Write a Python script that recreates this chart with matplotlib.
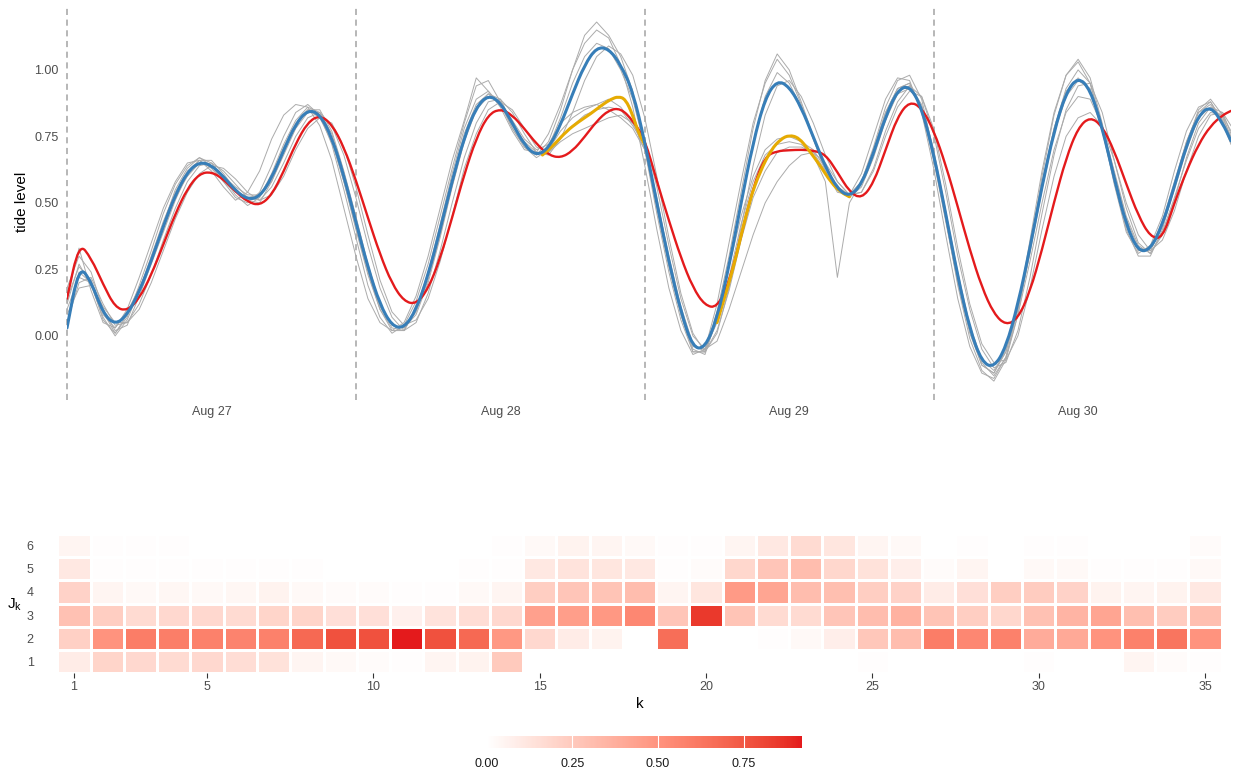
import numpy as np
import matplotlib
matplotlib.use("Agg")
import matplotlib.pyplot as plt
from matplotlib.colors import ListedColormap
from matplotlib.path import Path
from matplotlib.patches import PathPatch

plt.rcParams['font.family'] = ['Liberation Sans', 'DejaVu Sans']
plt.rcParams['mathtext.default'] = 'regular'

# hours since Aug 27 00:00
hours = list(range(97)) + [96.7]

day_ticks = [12, 36, 60, 84]
day_labels = ["Aug 27", "Aug 28", "Aug 29", "Aug 30"]
midnights = [0, 24, 48, 72]

# blue fit
blue = [.03, .265, .205, .085, .041, .079, .165, .282, .413, .53,
        .616, .654, .642, .599, .546, .513, .522, .593, .698, .797,
        .85, .834, .747, .603, .429, .257, .118, .037, .029, .097,
        .228, .40, .583, .746, .86, .906, .878, .80, .717, .677,
        .705, .792, .91, 1.019, 1.085, 1.08, 1.02, .92, .73, .50,
        .28, .09, -.045, -.046, .065, .261, .50, .727, .894, .961,
        .937, .859, .748, .636, .553, .523, .569, .686, .824, .924,
        .942, .858, .685, .46, .223, .025, -.098, -.12, -.043, .118,
        .33, .563, .77, .915, .974, .927, .784, .592, .416, .317,
        .324, .417, .563, .716, .829, .865, .80, .733]

# red fit
red = [.14, .35, .293, .194, .107, .094, .14, .229, .343, .459,
       .554, .61, .617, .589, .543, .504, .49, .529, .618, .723,
       .803, .83, .796, .71, .586, .444, .307, .196, .13, .119,
       .176, .291, .445, .607, .743, .832, .854, .83, .779, .722,
       .68, .669, .695, .748, .807, .849, .856, .81, .74, .582,
       .434, .294, .181, .114, .106, .20, .376, .559, .675, .695,
       .698, .70, .697, .683, .616, .542, .515, .574, .699, .824,
       .882, .858, .773, .643, .486, .324, .183, .083, .04, .065,
       .166, .323, .503, .668, .783, .824, .789, .696, .571, .452,
       .372, .365, .50, .62, .72, .79, .83, .846]

# yellow pieces
yel1_h = [39.5, 40.5, 41.5, 42.5, 43.5, 44.5, 45.2, 45.8, 46.4, 47.0, 47.5, 48.0]
yel1_v = [.68, .72, .77, .805, .835, .87, .89, .90, .89, .83, .76, .72]
yel2_h = [54.0, 55.0, 55.6, 56.7, 57.6, 58.5, 59.3, 60.0, 60.8, 61.6, 62.5, 63.5, 64.3, 65.0]
yel2_v = [.05, .20, .30, .51, .62, .70, .74, .755, .745, .70, .645, .575, .54, .523]

# grey ensemble
grey1 = [.15, .33, .17, .05, .03, .10, .22, .35, .48, .58,
         .65, .66, .62, .56, .51, .54, .62, .74, .83, .87,
         .86, .79, .66, .48, .30, .14, .05, .02, .05, .15,
         .30, .48, .66, .81, .97, .92, .86, .77, .70, .69,
         .76, .87, 1.00, 1.10, 1.15, 1.12, 1.02, .86, .64, .40,
         .18, .02, -.07, -.05, .12, .35, .58, .80, .95, 1.04,
         .98, .87, .74, .62, .54, .53, .61, .75, .89, .97,
         .96, .84, .63, .38, .14, -.04, -.14, -.16, -.08, .10,
         .36, .62, .84, .98, 1.03, .95, .78, .57, .39, .31,
         .34, .45, .62, .77, .86, .88, .80, .72]
grey2 = [.05, .20, .22, .12, .04, .05, .12, .23, .36, .48,
         .58, .64, .65, .62, .57, .52, .51, .56, .65, .75,
         .82, .84, .79, .68, .52, .34, .18, .07, .02, .05,
         .16, .32, .50, .67, .80, .88, .89, .84, .76, .69,
         .68, .74, .84, .96, 1.05, 1.09, 1.06, .98, .82, .60,
         .37, .16, .01, -.06, .01, .18, .41, .64, .83, .94,
         .96, .90, .80, .68, .58, .53, .54, .63, .77, .88,
         .94, .90, .76, .54, .30, .10, -.05, -.12, -.10, .02,
         .22, .46, .68, .85, .94, .95, .84, .66, .48, .35,
         .31, .38, .51, .67, .80, .86, .84, .76]
grey3 = [.12, .27, .19, .07, .00, .06, .17, .29, .42, .55,
         .63, .67, .65, .59, .53, .49, .52, .61, .72, .81,
         .86, .84, .74, .58, .40, .23, .10, .03, .02, .10,
         .24, .42, .61, .78, .89, .92, .87, .78, .71, .67,
         .70, .77, .82, .85, .87, .89, .86, .80, .70, .49,
         .27, .08, -.05, -.07, .07, .26, .45, .60, .70, .74,
         .75, .73, .70, .63, .56, .53, .58, .70, .84, .93,
         .95, .85, .66, .43, .20, .01, -.11, -.14, -.05, .12,
         .34, .58, .78, .92, .97, .92, .77, .58, .41, .32,
         .33, .43, .58, .73, .84, .87, .81, .74]
grey4 = [.18, .30, .24, .10, .02, .04, .15, .27, .39, .51,
         .61, .66, .66, .61, .55, .51, .50, .58, .69, .79,
         .85, .85, .77, .62, .45, .27, .12, .04, .03, .09,
         .21, .38, .57, .74, .86, .91, .89, .80, .73, .69,
         .69, .75, .79, .83, .85, .86, .85, .79, .72, .52,
         .29, .10, -.04, -.05, .05, .22, .42, .58, .68, .72,
         .73, .72, .68, .58, .22, .50, .58, .68, .82, .92,
         .94, .87, .70, .47, .24, .04, -.09, -.13, -.06, .10,
         .31, .55, .76, .90, .96, .93, .79, .61, .44, .33,
         .32, .41, .55, .70, .82, .86, .82, .75]
grey5 = [.14, .26, .21, .09, .01, .07, .19, .32, .46, .57,
         .64, .67, .64, .58, .52, .50, .54, .64, .75, .84,
         .87, .83, .72, .55, .37, .19, .07, .01, .04, .13,
         .27, .45, .63, .80, .94, .96, .88, .78, .71, .68,
         .73, .85, 1.00, 1.13, 1.18, 1.13, 1.05, .92, .70, .46,
         .24, .06, -.06, -.06, .09, .30, .54, .78, .96, 1.06,
         1.00, .88, .75, .64, .56, .53, .58, .71, .86, .96,
         .98, .89, .69, .44, .19, -.01, -.13, -.17, -.09, .08,
         .32, .60, .83, .98, 1.04, .97, .80, .59, .40, .30,
         .30, .40, .56, .72, .85, .89, .83, .74]
grey6 = [.10, .22, .20, .08, .03, .09, .18, .28, .40, .52,
         .60, .65, .64, .60, .56, .53, .53, .58, .68, .78,
         .84, .84, .76, .60, .42, .25, .11, .04, .03, .08,
         .20, .37, .56, .73, .85, .90, .88, .81, .74, .70,
         .72, .80, .84, .86, .87, .85, .82, .78, .70, .51,
         .30, .11, -.03, -.06, .02, .17, .36, .52, .62, .69,
         .71, .71, .69, .62, .55, .52, .56, .67, .81, .91,
         .93, .86, .69, .46, .22, .03, -.10, -.15, -.08, .08,
         .28, .50, .70, .84, .90, .89, .79, .62, .45, .34,
         .31, .39, .52, .66, .78, .84, .83, .77]
grey7 = [.08, .18, .19, .11, .05, .05, .10, .20, .32, .44,
         .54, .61, .64, .63, .59, .54, .51, .53, .60, .70,
         .78, .82, .80, .71, .56, .38, .21, .09, .04, .06,
         .14, .28, .45, .63, .76, .85, .88, .85, .78, .71,
         .69, .73, .76, .78, .80, .82, .83, .80, .74, .56,
         .34, .14, .00, -.05, -.02, .10, .24, .38, .50, .58,
         .64, .68, .69, .65, .58, .53, .54, .62, .75, .86,
         .92, .90, .78, .57, .33, .12, -.03, -.10, -.09, .00,
         .18, .40, .60, .75, .82, .84, .79, .66, .50, .38,
         .32, .36, .47, .62, .75, .83, .84, .79]
grey8 = [.03, .24, .20, .06, .01, .08, .17, .30, .43, .54,
         .62, .66, .63, .58, .54, .52, .53, .60, .71, .80,
         .85, .82, .73, .58, .41, .24, .10, .02, .02, .10,
         .23, .41, .59, .76, .87, .91, .87, .79, .72, .68,
         .71, .82, .95, 1.05, 1.10, 1.08, 1.00, .89, .71, .48,
         .26, .08, -.06, -.06, .06, .26, .50, .73, .90, .99,
         .95, .86, .74, .63, .55, .52, .57, .70, .84, .93,
         .95, .86, .67, .44, .21, .02, -.11, -.14, -.06, .11,
         .34, .57, .78, .93, 1.00, .95, .79, .60, .42, .32,
         .33, .42, .57, .73, .84, .88, .81, .73]
greys = [grey1, grey2, grey3, grey4, grey5, grey6, grey7, grey8]

# heatmap: P(J_k = j) for k = 1..35
k_vals = list(range(1, 36))
jk1 = [.09, .20, .18, .17, .18, .16, .14, .05, .03, .02, .01, .05, .06, .25, 0, 0, 0, 0, 0, 0,
       0, 0, 0, 0, .01, 0, 0, 0, 0, .01, 0, 0, .05, .02, .01]
jk2 = [.22, .50, .60, .59, .58, .57, .58, .68, .77, .77, .92, .77, .68, .48, .18, .09, .06, 0, .66, 0,
       0, .01, .03, .08, .26, .31, .60, .55, .58, .39, .40, .50, .58, .63, .50]
jk3 = [.29, .23, .17, .18, .18, .17, .20, .20, .15, .15, .07, .13, .16, .18, .44, .45, .48, .55, .27, .85,
       .28, .17, .17, .27, .31, .36, .28, .23, .19, .29, .35, .42, .30, .24, .30]
jk4 = [.21, .05, .03, .04, .03, .04, .06, .03, .02, .02, .01, .01, .03, .05, .23, .27, .28, .31, .05, .12,
       .47, .42, .31, .30, .23, .21, .09, .15, .23, .24, .21, .06, .05, .06, .11]
jk5 = [.11, .01, .01, .01, .01, .01, .01, .01, 0, 0, 0, 0, .01, .01, .11, .13, .12, .11, .01, .02,
       .19, .27, .31, .19, .14, .08, .02, .05, 0, .03, .03, .01, .01, .01, .03]
jk6 = [.05, .01, .01, .01, 0, 0, 0, 0, 0, 0, 0, 0, 0, .01, .03, .06, .05, .03, .01, .01,
       .05, .11, .17, .12, .05, .03, 0, .01, 0, .01, .01, 0, 0, 0, .02]

cbar_ticks = [0, 0.25, 0.5, 0.75]


# white -> red gradient in Lab, like ggplot's scale_fill_gradient
M = np.array([[0.4124, 0.3576, 0.1805], [0.2126, 0.7152, 0.0722], [0.0193, 0.1192, 0.9505]])
WP = np.array([0.95047, 1.0, 1.08883])

def to_lab(c):
    c = np.asarray(c, float)
    lin = np.where(c <= 0.04045, c / 12.92, ((c + 0.055) / 1.055) ** 2.4)
    xyz = M @ lin / WP
    f = np.where(xyz > 0.008856, np.cbrt(xyz), 7.787 * xyz + 16 / 116)
    return np.array([116 * f[1] - 16, 500 * (f[0] - f[1]), 200 * (f[1] - f[2])])

def from_lab(lab):
    fy = (lab[0] + 16) / 116
    f = np.array([fy + lab[1] / 500, fy, fy - lab[2] / 200])
    xyz = np.where(f ** 3 > 0.008856, f ** 3, (f - 16 / 116) / 7.787) * WP
    lin = np.clip(np.linalg.inv(M) @ xyz, 0, 1)
    return np.clip(np.where(lin <= 0.0031308, 12.92 * lin, 1.055 * lin ** (1 / 2.4) - 0.055), 0, 1)

lo = to_lab([1, 1, 1])
hi = to_lab(np.array([228, 26, 28]) / 255)
cmap = ListedColormap([from_lab(lo + t * (hi - lo)) for t in np.linspace(0, 1, 256)])


# draw a line as quadratic bezier pieces (points are control points) so it looks smooth
def smooth_line(ax, x, y, **kw):
    pts = np.column_stack([x, y])
    mids = (pts[:-1] + pts[1:]) / 2
    verts = [pts[0], mids[0]]
    codes = [Path.MOVETO, Path.LINETO]
    for i in range(1, len(pts) - 1):
        verts += [pts[i], mids[i]]
        codes += [Path.CURVE3, Path.CURVE3]
    verts.append(pts[-1])
    codes.append(Path.LINETO)
    ax.add_patch(PathPatch(Path(verts, codes), fill=False, capstyle='round', joinstyle='round', **kw))


W, H = 1238, 770
fig = plt.figure(figsize=(W / 100, H / 100), dpi=100)

# top panel
ax = fig.add_axes([67 / W, 1 - 400 / H, 1164 / W, 395 / H])
for m in midnights:
    ax.axvline(m, color='#A3A3A3', lw=1.1, ls=(0, (4, 3)), zorder=1, clip_on=False)
for g in greys:
    ax.plot(hours, g, color='#ABABAB', lw=0.7, zorder=2)
smooth_line(ax, hours, red, edgecolor='#E41A1C', lw=1.7, zorder=3)
smooth_line(ax, yel1_h, yel1_v, edgecolor='#E6AB02', lw=2.2, zorder=4)
smooth_line(ax, yel2_h, yel2_v, edgecolor='#E6AB02', lw=2.2, zorder=4)
smooth_line(ax, hours, blue, edgecolor='#377EB8', lw=2.2, zorder=5)

ax.set_xlim(0, 96.7)
ax.set_ylim(-0.241, 1.244)
ax.set_yticks([0, 0.25, 0.5, 0.75, 1.0])
ax.set_yticklabels(['0.00', '0.25', '0.50', '0.75', '1.00'])
ax.set_xticks(day_ticks)
ax.set_xticklabels(day_labels)
for s in ax.spines.values():
    s.set_visible(False)
ax.tick_params(length=0, labelsize=9, labelcolor='#4D4D4D')
ax.tick_params(axis='y', pad=6)
ax.tick_params(axis='x', pad=4)
fig.text(22 / W, 1 - 202 / H, 'tide level', rotation=90, ha='center', va='center', fontsize=11)

# heatmap
hx = fig.add_axes([57.4 / W, 1 - 673 / H, (1221.6 - 57.4) / W, (673 - 534) / H])
mat = np.array([jk1, jk2, jk3, jk4, jk5, jk6])
vmax = mat.max()
mesh = hx.pcolormesh(np.arange(0.5, 36.5), np.arange(0.5, 7.5), mat, cmap=cmap, vmin=0, vmax=vmax,
                     edgecolors='white', linewidth=0.9)
hx.set_xlim(0.5, 35.5)
hx.set_ylim(0.5, 6.5)
hx.set_xticks([1, 5, 10, 15, 20, 25, 30, 35])
hx.set_yticks([1, 2, 3, 4, 5, 6])
for s in hx.spines.values():
    s.set_visible(False)
hx.tick_params(axis='x', length=3.5, width=0.8, color='#333333', labelsize=9, labelcolor='#4D4D4D', pad=2)
hx.tick_params(axis='y', length=0, labelsize=9, labelcolor='#4D4D4D', pad=17)
hx.set_xlabel('k', fontsize=11, labelpad=3)
fig.text(15 / W, 1 - 605 / H, r'$\mathregular{J_k}$', ha='center', va='center', fontsize=11)

# colourbar
cax = fig.add_axes([486.5 / W, 1 - 748 / H, vmax * 343 / W, 12 / H])
cb = fig.colorbar(mesh, cax=cax, orientation='horizontal')
cb.outline.set_visible(False)
cb.set_ticks(cbar_ticks)
cb.set_ticklabels(['0.00', '0.25', '0.50', '0.75'])
cax.tick_params(length=0, labelsize=9, pad=7, labelcolor='#1A1A1A')
for t in cbar_ticks[1:]:
    cax.axvline(t, color='white', lw=0.8)

fig.savefig('out.png', dpi=100)
